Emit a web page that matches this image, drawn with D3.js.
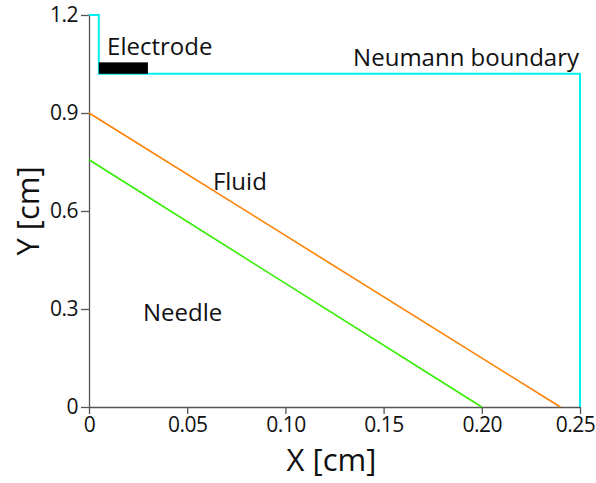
<!DOCTYPE html>
<html>
<head>
<meta charset="utf-8">
<script src="https://cdn.jsdelivr.net/npm/d3@7"></script>
<style>
  body { margin: 0; background: #fff; }
  text { font-family: "Open Sans", sans-serif; }
</style>
</head>
<body>
<div id="chart"></div>
<script>
// tick values
const xTicks = [0, 0.05, 0.10, 0.15, 0.20, 0.25];
const xTickLabels = ["0", "0.05", "0.10", "0.15", "0.20", "0.25"];
const yTicks = [0, 0.3, 0.6, 0.9, 1.2];
const yTickLabels = ["0", "0.3", "0.6", "0.9", "1.2"];

// lines (x, y in cm)
const fluidLine = [[0, 0.9], [0.24, 0]];
const needleLine = [[0, 0.757], [0.2, 0]];
const boundaryLine = [[0, 1.2], [0.005, 1.2], [0.005, 1.02], [0.25, 1.02], [0.25, 0]];
const electrode = { x0: 0.005, x1: 0.03, y0: 1.02, y1: 1.055 };

// labels
const labels = [
  { text: "Electrode", x: 0.0092, y: 1.077, anchor: "start" },
  { text: "Neumann boundary", x: 0.2495, y: 1.044, anchor: "end" },
  { text: "Fluid", x: 0.0631, y: 0.664, anchor: "start" },
  { text: "Needle", x: 0.0275, y: 0.263, anchor: "start" }
];

const width = 596, height = 483;
const margin = { left: 89, right: 16, top: 15, bottom: 76 };

const svg = d3.select("#chart")
  .append("svg")
  .attr("width", width)
  .attr("height", height);

const x = d3.scaleLinear().domain([0, 0.25]).range([margin.left, width - margin.right]);
const y = d3.scaleLinear().domain([0, 1.2]).range([height - margin.bottom, margin.top]);

const xAxis = svg.append("g")
  .attr("transform", `translate(0, ${y(0)})`)
  .call(d3.axisBottom(x).tickValues(xTicks).tickFormat((d, i) => xTickLabels[i]).tickSize(7).tickSizeOuter(0).tickPadding(3));

const yAxis = svg.append("g")
  .attr("transform", `translate(${x(0)}, 0)`)
  .call(d3.axisLeft(y).tickValues(yTicks).tickFormat((d, i) => yTickLabels[i]).tickSize(8).tickSizeOuter(0).tickPadding(3));

[xAxis, yAxis].forEach(g => {
  g.select(".domain").attr("stroke", "#555").attr("stroke-width", 1.3);
  g.selectAll(".tick line").attr("stroke", "#555").attr("stroke-width", 1.3);
  g.selectAll(".tick text")
    .attr("fill", "#111")
    .style("font-family", "'Open Sans', sans-serif")
    .style("font-size", "21px")
    .style("letter-spacing", "-0.5px");
});
// keep the last x label inside the window
xAxis.selectAll(".tick text").filter(d => d === 0.25).attr("dx", -5);

const line = d3.line().x(d => x(d[0])).y(d => y(d[1]));

svg.append("path")
  .datum(boundaryLine)
  .attr("d", line)
  .attr("fill", "none")
  .attr("stroke", "#00f0f0")
  .attr("stroke-width", 2);

svg.append("path")
  .datum(fluidLine)
  .attr("d", line)
  .attr("fill", "none")
  .attr("stroke", "#ff8000")
  .attr("stroke-width", 1.6);

svg.append("path")
  .datum(needleLine)
  .attr("d", line)
  .attr("fill", "none")
  .attr("stroke", "#33ee00")
  .attr("stroke-width", 1.6);

svg.append("rect")
  .attr("x", x(electrode.x0))
  .attr("y", y(electrode.y1))
  .attr("width", x(electrode.x1) - x(electrode.x0))
  .attr("height", y(electrode.y0) - y(electrode.y1))
  .attr("fill", "#000");

svg.selectAll(".lbl")
  .data(labels)
  .join("text")
  .attr("class", "lbl")
  .attr("x", d => x(d.x))
  .attr("y", d => y(d.y))
  .attr("text-anchor", d => d.anchor)
  .style("font-size", "24px")
  .attr("fill", "#111")
  .text(d => d.text);

svg.append("text")
  .attr("x", x(0.125) - 3)
  .attr("y", 471)
  .attr("text-anchor", "middle")
  .style("font-size", "31px")
  .attr("fill", "#111")
  .text("X [cm]");

svg.append("text")
  .attr("transform", `translate(39, ${y(0.6)}) rotate(-90)`)
  .attr("text-anchor", "middle")
  .style("font-size", "31px")
  .attr("fill", "#111")
  .text("Y [cm]");
</script>
</body>
</html>
